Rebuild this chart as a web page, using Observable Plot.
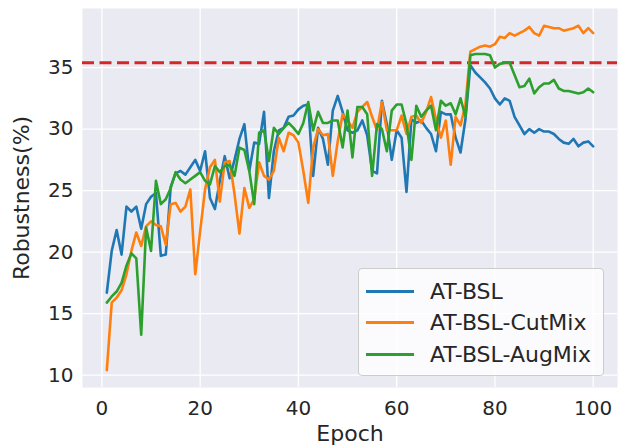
<!DOCTYPE html>
<html>
<head>
<meta charset="utf-8">
<script src="https://cdn.jsdelivr.net/npm/d3@7"></script>
<script src="https://cdn.jsdelivr.net/npm/@observablehq/plot@0.6"></script>
<style>
  html, body { margin: 0; padding: 0; background: #fff; }
  #wrap { position: relative; width: 618px; height: 447px; font-family: "DejaVu Sans", sans-serif; }
  #legend { position: absolute; left: 358px; top: 268px; width: 246px; height: 108px;
    background: rgba(255,255,255,0.8); border: 1px solid #cccccc; border-radius: 4px; box-sizing: border-box; }
  .row { position: absolute; left: 7px; height: 24px; display: flex; align-items: center; font-size: 22px; color: #262626; white-space: nowrap; }
  .sw { width: 48px; height: 3px; margin-right: 16px; }
</style>
</head>
<body>
<div id="wrap"><div id="chart"></div><div id="legend"></div></div>
<script>
const epochs = d3.range(1, 101);
const seriesNames = ["AT-BSL", "AT-BSL-CutMix", "AT-BSL-AugMix"];
const seriesColors = ["#1f77b4", "#ff7f0e", "#2ca02c"];
const baseline = 35.4;
const xTicks = [0, 20, 40, 60, 80, 100];
const yTicks = [10, 15, 20, 25, 30, 35];

const atBsl = [16.7,20.1,21.8,19.8,23.7,23.3,23.7,21.9,23.9,24.5,
  24.8,19.7,19.8,25.3,26.4,26.6,26.3,26.9,27.5,26.6,
  28.2,24.4,23.5,25.8,27.8,26.0,27.5,29.2,30.4,26.6,
  28.9,28.8,31.4,24.4,28.2,29.9,30.1,31.0,31.1,31.6,
  31.9,32.0,26.2,30.1,29.2,27.1,31.5,32.7,31.4,29.9,
  29.7,29.9,30.7,29.5,26.6,26.4,32.3,30.4,27.5,29.9,
  29.3,24.9,30.8,30.5,30.7,30.1,29.6,28.2,31.4,31.2,
  31.2,29.3,28.1,30.8,35.2,34.6,34.2,33.8,33.3,32.5,
  32.0,32.5,32.3,31.0,30.3,29.6,30.0,29.7,30.0,29.8,
  29.8,29.6,29.2,28.9,28.8,29.2,28.6,28.9,29.0,28.6];
const atBslCutMix = [10.4,15.9,16.3,16.9,18.2,20.1,21.6,20.5,22.1,22.5,
  22.2,22.1,20.6,23.9,24.0,23.3,23.7,25.1,18.2,21.7,
  25.1,26.9,27.5,24.1,27.3,27.4,24.7,21.5,25.2,23.6,
  24.3,27.3,26.2,25.9,26.6,29.3,28.2,29.7,29.5,28.9,
  26.6,24.0,28.5,30.0,29.5,29.6,26.2,29.0,31.2,30.7,
  30.1,31.4,31.8,32.2,31.0,29.9,32.2,29.9,29.9,29.9,
  31.1,29.6,31.0,31.1,30.5,31.4,32.6,30.8,29.3,30.7,
  27.1,31.0,30.3,32.0,36.3,36.5,36.7,36.8,36.7,36.9,
  37.5,37.4,37.8,37.6,37.8,38.0,38.3,37.8,37.6,38.4,
  38.3,38.2,38.2,38.0,38.1,38.2,38.4,37.8,38.2,37.8];
const atBslAugMix = [15.9,16.4,16.8,17.5,18.9,19.9,19.5,13.3,22.0,20.1,
  25.8,23.9,24.3,25.2,26.5,25.9,25.6,25.9,26.2,26.5,
  25.8,25.5,27.0,26.5,27.0,27.1,26.2,28.5,28.3,26.6,
  23.9,29.7,29.9,27.4,30.1,29.6,30.1,30.5,30.1,29.6,
  30.5,32.2,29.9,31.4,30.5,30.5,30.7,30.7,28.5,31.5,
  27.7,31.8,31.8,31.2,26.2,30.4,30.0,28.2,31.5,32.0,
  32.0,30.4,27.5,31.9,31.0,31.5,31.9,29.9,32.3,31.9,
  32.1,31.2,32.5,31.0,36.0,36.1,36.1,36.1,36.0,35.0,
  35.3,35.4,35.4,34.4,33.4,33.5,34.1,32.9,33.4,33.7,
  33.7,34.0,33.3,33.1,33.1,33.0,32.9,33.0,33.3,33.0];

const allSeries = [atBsl, atBslCutMix, atBslAugMix];
const rows = [];
allSeries.forEach((vals, i) => vals.forEach((v, j) => rows.push({epoch: epochs[j], value: v, series: seriesNames[i]})));

const chart = Plot.plot({
  width: 618, height: 447,
  marginLeft: 82, marginRight: 1, marginTop: 8, marginBottom: 60,
  style: {fontFamily: "DejaVu Sans, sans-serif", fontSize: "20px", color: "#262626", background: "#fff"},
  x: {domain: [-3.95, 104.95]},
  y: {domain: [9.0, 39.8]},
  color: {domain: seriesNames, range: seriesColors},
  marks: [
    Plot.frame({fill: "#EAEAF2", stroke: null}),
    Plot.gridX(xTicks, {stroke: "#fff", strokeOpacity: 1, strokeWidth: 1.3}),
    Plot.gridY(yTicks, {stroke: "#fff", strokeOpacity: 1, strokeWidth: 1.3}),
    Plot.axisX(xTicks, {tickSize: 0, tickPadding: 13, fontSize: 20, label: null}),
    Plot.axisX({tickSize: 0, ticks: [], fontSize: 22, label: "Epoch", labelAnchor: "center", labelOffset: 53, labelArrow: "none"}),
    Plot.axisY(yTicks, {tickSize: 0, tickPadding: 9, fontSize: 20, label: null}),
    Plot.axisY({tickSize: 0, ticks: [], fontSize: 22, label: "Robustness(%)", labelAnchor: "center", labelOffset: 69, labelArrow: "none"}),
    Plot.ruleY([baseline], {stroke: "#d62728", strokeWidth: 3, strokeDasharray: "12,5.5"}),
    Plot.line(rows, {x: "epoch", y: "value", z: "series", stroke: "series", strokeWidth: 2.6, strokeLinejoin: "round"})
  ]
});
document.getElementById("chart").appendChild(chart);

const legend = document.getElementById("legend");
seriesNames.forEach((name, i) => {
  const r = document.createElement("div");
  r.className = "row";
  r.style.top = (10 + i * 31.5) + "px";
  r.innerHTML = `<div class="sw" style="background:${seriesColors[i]}"></div><span>${name}</span>`;
  legend.appendChild(r);
});
</script>
</body>
</html>
